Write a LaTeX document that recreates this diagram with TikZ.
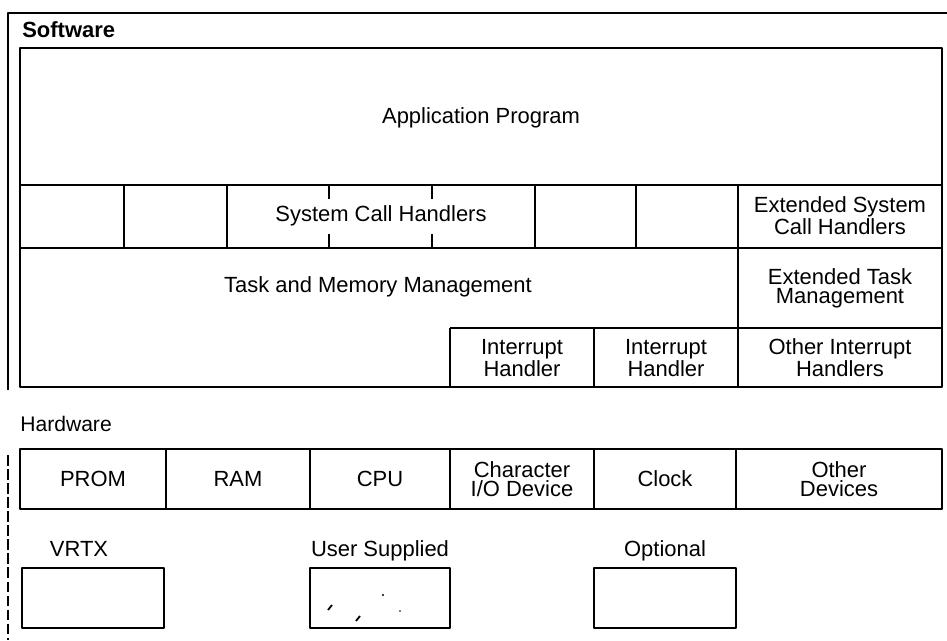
\documentclass[tikz,border=0pt]{standalone}
\usepackage{fontspec}
\setmainfont{Liberation Sans}
\usetikzlibrary{positioning}
\tikzset{
  heavy/.style={line width=1.6pt},
  divider/.style={line width=1pt},
  thin frame/.style={line width=0.6pt},
  lbl/.style={font=\fontsize{12.5}{11}\selectfont, align=center, inner sep=0pt},
  head/.style={font=\fontsize{12.5}{14}\selectfont, anchor=west, inner sep=0pt},
  legbox/.style={draw, heavy, minimum width=2.84cm, minimum height=1.2cm, inner sep=0pt},
}
\begin{document}
\begin{tikzpicture}[line join=round, x=0.02cm, y=-0.02cm]
\useasboundingbox (0,0) rectangle (947,640);
% outer frame of the figure
\coordinate (fa) at (8,13);
\coordinate (fb) at (947,13);
\coordinate (fc) at (8,390);
\coordinate (fd) at (8,455);
\coordinate (fe) at (8,640);
\draw[thin frame] (fb)--(fa)--(fc);
\draw[thin frame, dash pattern=on 6pt off 2pt] (fd)--(fe);

% software block
\coordinate (sw) at (20,48);
\coordinate (se) at (942,387);
\coordinate (appL) at (20,185);
\coordinate (appR) at (942,185);
\coordinate (sysL) at (20,248);
\coordinate (sysR) at (942,248);
\coordinate (irqL) at (450,328);
\coordinate (irqR) at (942,328);
\node[head, font=\fontsize{12.5}{14}\selectfont\bfseries] (software) at (22,30) {Software};
\draw[heavy] (sw) rectangle (se);
\draw[divider] (appL)--(appR) (sysL)--(sysR) (irqL)--(irqR);
\draw[divider] (124,185)--(124,248) (227,185)--(227,248)
               (535,185)--(535,248) (636,185)--(636,248);
\draw[divider] (329,185)--(329,199) (329,234)--(329,248)
               (432,185)--(432,199) (432,234)--(432,248);
\draw[divider] (738,185)--(738,387);
\draw[divider] (450,328)--(450,387) (594,328)--(594,387);

\node[lbl] (app) at (481,118) {Application Program};
\node[lbl] (sch) at (381,216) {System Call Handlers};
\node[lbl] (esch) at (840,216) {Extended System\\Call Handlers};
\node[lbl] (tmm) at (378,287) {Task and Memory Management};
\node[lbl] (etm) at (840,288) {Extended Task\\Management};
\node[lbl] (ih1) at (522,358) {Interrupt\\Handler};
\node[lbl] (ih2) at (666,358) {Interrupt\\Handler};
\node[lbl] (oih) at (840,358) {Other Interrupt\\Handlers};

% hardware row
\node[head, font=\fontsize{12}{14}\selectfont] (hardware) at (20,424) {Hardware};
\draw[heavy] (20,449) rectangle (942,509);
\draw[divider] (166,449)--(166,509) (310,449)--(310,509) (450,449)--(450,509)
               (594,449)--(594,509) (736,449)--(736,509);
\node[lbl] (prom) at (93,479) {PROM};
\node[lbl] (ram) at (238,479) {RAM};
\node[lbl] (cpu) at (380,479) {CPU};
\node[lbl] (chario) at (522,479) {Character\\I/O Device};
\node[lbl] (clock) at (665,479) {Clock};
\node[lbl] (other) at (839,479) {Other\\Devices};

% legend
\node[legbox] (vrtx) at (93,598) {};
\node[legbox, minimum width=2.8cm] (user) at (380,598) {};
\node[legbox] (optional) at (665,598) {};
\node[lbl, above=6pt of vrtx.north, anchor=base, xshift=-0.28cm] (vrtxlbl) {VRTX};
\node[lbl, above=6pt of user.north, anchor=base] (userlbl) {User Supplied};
\node[lbl, above=6pt of optional.north, anchor=base] (optlbl) {Optional};
\draw[divider] (328,610)--(332,605) (356,621)--(360,616);
\fill (383,595) circle (1.2) (400,611) circle (0.8);
\end{tikzpicture}
\end{document}
